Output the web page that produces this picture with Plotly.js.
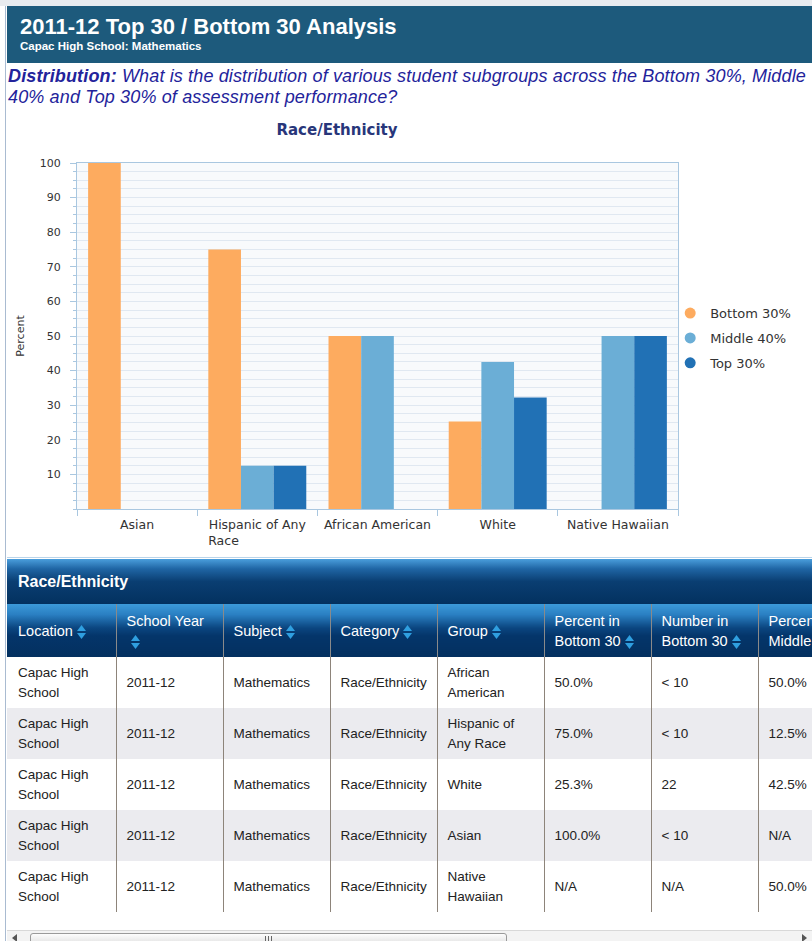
<!DOCTYPE html>
<html>
<head>
<meta charset="utf-8">
<script src="https://cdn.plot.ly/plotly-3.0.1.min.js"></script>
<style>
  html, body { margin:0; padding:0; background:#fff; width:812px; height:941px; overflow:hidden; font-family:"Liberation Sans", Arial, sans-serif; }
  .abs { position:absolute; }
  #topstrip { left:0; top:0; width:812px; height:6px; background:#e8ebef; }
  #leftline { left:5px; top:6px; width:1px; height:935px; background:#a9bbd1; }
  #header { left:7px; top:6px; width:805px; height:57px; background:#1d5a7c; }
  #htitle { left:20px; top:14px; color:#fff; font-weight:bold; font-size:22px; white-space:nowrap; }
  #hsub { left:20px; top:40px; color:#fff; font-weight:bold; font-size:11.5px; white-space:nowrap; }
  #dist { left:8px; top:66px; width:804px; color:#23239b; font-style:italic; font-size:18px; letter-spacing:0.14px; line-height:21px; white-space:nowrap; }
  #chart { left:7px; top:110px; width:805px; height:448px; }
  #chartline { left:7px; top:557px; width:805px; height:1px; background:#b9d4ea; }
  #secbar { left:7px; top:559px; width:805px; height:45px; background:linear-gradient(to bottom,#4a9edc 0%,#1f65a4 22%,#0a3e72 50%,#03315f 100%); color:#fff; font-weight:bold; font-size:16px; line-height:45px; padding-left:11px; box-sizing:border-box; }
  #tblwrap { left:7px; top:604px; width:805px; height:310px; overflow:hidden; }
  table { border-collapse:collapse; table-layout:fixed; }
  th { height:53px; padding:0 0 0 10px; text-align:left; font-weight:normal; color:#fff; font-size:14.5px; line-height:20px; vertical-align:middle; white-space:nowrap; overflow:hidden;
       background:linear-gradient(to bottom,#3c9ad9 0%,#2a7fc2 20%,#0b4680 45%,#04356a 60%,#03305f 100%); border-left:1px solid #8a8a8a; }
  td { height:51px; padding:0 0 0 10px; font-size:13.5px; line-height:20px; color:#222; vertical-align:middle; white-space:nowrap; overflow:hidden; border-left:1px solid #8d847a; }
  th:first-child, td:first-child { border-left:none; padding-left:11px; }
  tr.alt td { background:#ebebef; }
  .sort { display:inline-block; vertical-align:middle; margin-left:4px; }
  #scroll { left:7px; top:930px; width:805px; height:11px; background:#f3f3f3; border-top:1px solid #d8d8d8; }
  #thumb { left:30px; top:933px; width:477px; height:10px; border:1px solid #9a9a9a; border-radius:3px 3px 0 0; background:linear-gradient(#fdfdfd,#e6e6e6); box-sizing:border-box; }
  .grip { top:936px; width:1px; height:5px; background:#666; }
  #larr { left:12px; top:934px; width:0; height:0; border-top:4px solid transparent; border-bottom:4px solid transparent; border-right:5px solid #555; }
  #rarr { left:802px; top:934px; width:0; height:0; border-top:4px solid transparent; border-bottom:4px solid transparent; border-left:5px solid #555; }
</style>
</head>
<body>
<div id="topstrip" class="abs"></div>
<div id="header" class="abs"></div>
<div id="leftline" class="abs"></div>
<div id="htitle" class="abs">2011-12 Top 30 / Bottom 30 Analysis</div>
<div id="hsub" class="abs">Capac High School: Mathematics</div>
<div id="dist" class="abs"><b>Distribution:</b> What is the distribution of various student subgroups across the Bottom 30%, Middle<br>40% and Top 30% of assessment performance?</div>
<div id="chart" class="abs"></div>
<div id="chartline" class="abs"></div>
<div id="secbar" class="abs">Race/Ethnicity</div>
<div id="tblwrap" class="abs"></div>
<div id="scroll" class="abs"></div>
<div id="thumb" class="abs"></div>
<div class="abs grip" style="left:265px"></div>
<div class="abs grip" style="left:268px"></div>
<div class="abs grip" style="left:271px"></div>
<div id="larr" class="abs"></div>
<div id="rarr" class="abs"></div>

<script>
// ---- Chart data ----
const categories = ['Asian', 'Hispanic of Any Race', 'African American', 'White', 'Native Hawaiian'];
const categoryTickText = ['Asian', 'Hispanic of Any<br>Race' + '\u00a0'.repeat(17), 'African American', 'White', 'Native Hawaiian'];
const seriesNames = ['Bottom 30%', 'Middle 40%', 'Top 30%'];
const bottom30 = [100, 75, 50, 25.3, null];
const middle40 = [null, 12.5, 50, 42.5, 50];
const top30 = [null, 12.5, null, 32.2, 50];
const seriesColors = ['#fdab5f', '#6baed6', '#2171b5'];
const yTickVals = [10, 20, 30, 40, 50, 60, 70, 80, 90, 100];

// ---- Table data ----
const tblHeaders = ['Location', 'School Year', 'Subject', 'Category', 'Group', 'Percent in\nBottom 30', 'Number in\nBottom 30', 'Percent in\nMiddle 40'];
const tblHeaderBreakBeforeIcon = [false, true, false, false, false, false, false, false];
const tblLocation = ['Capac High\nSchool', 'Capac High\nSchool', 'Capac High\nSchool', 'Capac High\nSchool', 'Capac High\nSchool'];
const tblYear = ['2011-12', '2011-12', '2011-12', '2011-12', '2011-12'];
const tblSubject = ['Mathematics', 'Mathematics', 'Mathematics', 'Mathematics', 'Mathematics'];
const tblCategory = ['Race/Ethnicity', 'Race/Ethnicity', 'Race/Ethnicity', 'Race/Ethnicity', 'Race/Ethnicity'];
const tblGroup = ['African\nAmerican', 'Hispanic of\nAny Race', 'White', 'Asian', 'Native\nHawaiian'];
const tblPctBottom = ['50.0%', '75.0%', '25.3%', '100.0%', 'N/A'];
const tblNumBottom = ['< 10', '< 10', '22', '< 10', 'N/A'];
const tblPctMiddle = ['50.0%', '12.5%', '42.5%', 'N/A', '50.0%'];
const tblColWidths = [109, 107, 107, 107, 107, 107, 107, 107];

const seriesData = [bottom30, middle40, top30];
const traces = [];
seriesData.forEach((vals, i) => {
  traces.push({
    type: 'bar', x: categories, y: vals, name: seriesNames[i],
    marker: { color: seriesColors[i], line: { width: 0 } },
    showlegend: false, hoverinfo: 'x+y+name'
  });
});
seriesData.forEach((vals, i) => {
  traces.push({
    type: 'scatter', mode: 'markers', x: [null], y: [null], name: seriesNames[i],
    marker: { color: seriesColors[i], size: 11, symbol: 'circle' },
    legendgroup: 'g' + i, showlegend: true, hoverinfo: 'skip'
  });
});

const axisLine = '#a9c7e0';
const gridCol = '#e0e8f1';
const layout = {
  width: 805, height: 448,
  margin: { l: 70, r: 134, t: 53, b: 49 },
  paper_bgcolor: '#ffffff', plot_bgcolor: '#f8fafc',
  font: { family: 'DejaVu Sans, Verdana, sans-serif', size: 11, color: '#333' },
  title: { text: 'Race/Ethnicity', x: 0.4326, xref: 'paper', xanchor: 'center', y: 0.957, yref: 'container', yanchor: 'middle',
           font: { family: 'DejaVu Sans, Verdana, sans-serif', size: 15, color: '#28367a', weight: 'bold' } },
  barmode: 'group', bargap: 0.185, bargroupgap: 0,
  xaxis: {
    type: 'category', categoryarray: categories, categoryorder: 'array',
    tickmode: 'array', tickvals: categories, ticktext: categoryTickText,
    showline: true, linecolor: axisLine, linewidth: 1, mirror: true,
    ticks: 'outside', tickson: 'boundaries', ticklen: 6, tickcolor: axisLine,
    showgrid: false, zeroline: false, fixedrange: true,
    tickfont: { size: 12.5, color: '#333' }, ticklabelstandoff: 4
  },
  yaxis: {
    range: [0, 100], tickmode: 'array', tickvals: yTickVals,
    showline: true, linecolor: axisLine, linewidth: 1, mirror: true,
    ticks: 'outside', ticklen: 6, tickcolor: axisLine,
    showgrid: true, gridcolor: gridCol, zeroline: false, fixedrange: true,
    tickfont: { size: 11, color: '#333' }, ticklabelstandoff: 7,
    minor: { tickmode: 'linear', tick0: 0, dtick: 2.5, showgrid: true, gridcolor: gridCol, ticks: 'outside', ticklen: 3, tickcolor: axisLine },
    title: { text: 'Percent', standoff: 12, font: { size: 11, color: '#333' } }
  },
  legend: {
    x: 0.987, xanchor: 'left', y: 0.494, yanchor: 'middle',
    font: { size: 13, color: '#333' }, itemwidth: 30,
    traceorder: 'grouped', tracegroupgap: 5, bgcolor: 'rgba(0,0,0,0)'
  },
  showlegend: true
};

Plotly.newPlot('chart', traces, layout, { displayModeBar: false, staticPlot: true });

// ---- Build table ----
function sortIcon() {
  return '<svg class="sort" width="9" height="14" viewBox="0 0 9 14"><polygon points="4.5,0 9,6 0,6" fill="#2f9fe0"/><polygon points="0,8 9,8 4.5,14" fill="#2f9fe0"/></svg>';
}
const nl = s => s.replace(/</g, '&lt;').replace(/\n/g, '<br>');
const tblWidth = tblColWidths.reduce((a, b) => a + b, 0);
let html = '<table style="width:' + tblWidth + 'px"><colgroup>' + tblColWidths.map(w => '<col style="width:' + w + 'px">').join('') + '</colgroup><thead><tr>';
tblHeaders.forEach((h, i) => {
  const isLast = i === tblHeaders.length - 1;
  html += '<th>' + nl(h) + (isLast ? '' : (tblHeaderBreakBeforeIcon[i] ? '<br>' : '') + sortIcon()) + '</th>';
});
html += '</tr></thead><tbody>';
const tblCols = [tblLocation, tblYear, tblSubject, tblCategory, tblGroup, tblPctBottom, tblNumBottom, tblPctMiddle];
for (let r = 0; r < tblLocation.length; r++) {
  html += '<tr' + (r % 2 === 1 ? ' class="alt"' : '') + '>';
  tblCols.forEach(col => { html += '<td>' + nl(col[r]) + '</td>'; });
  html += '</tr>';
}
html += '</tbody></table>';
document.getElementById('tblwrap').innerHTML = html;
</script>
</body>
</html>
